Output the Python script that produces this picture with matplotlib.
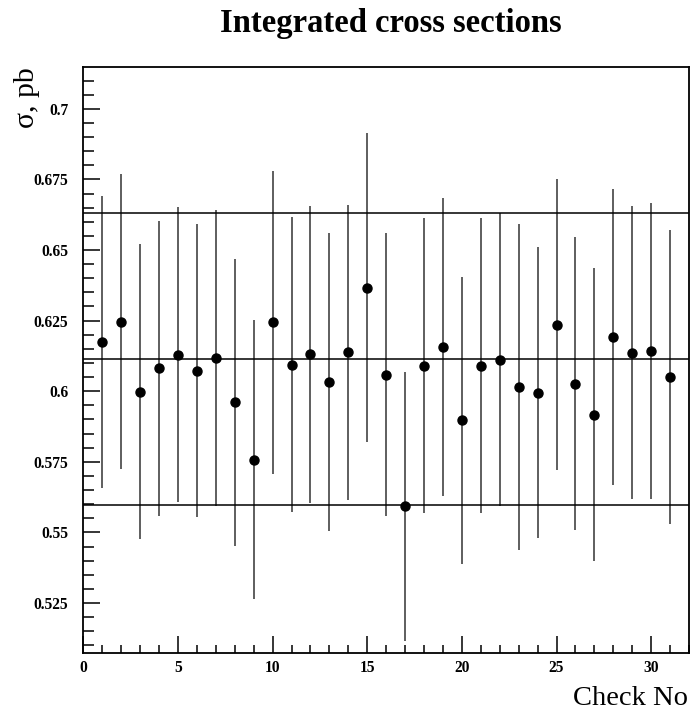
import matplotlib
matplotlib.use("Agg")
import matplotlib.pyplot as plt
from matplotlib.ticker import MultipleLocator, FuncFormatter

# Cross section per check run
check_no = list(range(1, 32))
sigma = [0.6174, 0.6246, 0.5998, 0.6081, 0.6129, 0.6072, 0.6117, 0.5961,
         0.5758, 0.6244, 0.6094, 0.6130, 0.6032, 0.6138, 0.6367, 0.6059,
         0.5593, 0.6090, 0.6156, 0.5897, 0.6090, 0.6111, 0.6014, 0.5995,
         0.6236, 0.6027, 0.5917, 0.6192, 0.6137, 0.6143, 0.6050]
sigma_err = [0.0516, 0.0522, 0.0522, 0.0522, 0.0522, 0.0519, 0.0523, 0.0508,
             0.0493, 0.0537, 0.0522, 0.0525, 0.0528, 0.0522, 0.0547, 0.0500,
             0.0476, 0.0522, 0.0528, 0.0508, 0.0522, 0.0519, 0.0577, 0.0515,
             0.0516, 0.0519, 0.0519, 0.0525, 0.0519, 0.0524, 0.0520]

# average and its band
sigma_mean = 0.6114
sigma_band = 0.0518

serif = "Liberation Serif"

fig = plt.figure(figsize=(6.91, 7.12), dpi=100)
ax = fig.add_axes([0.1206, 0.0833, 0.8765, 0.8230])

ax.errorbar(check_no, sigma, yerr=sigma_err, fmt="o", color="black",
            ecolor="#333333", elinewidth=1.1, markersize=6.5, capsize=0)

for y in (sigma_mean - sigma_band, sigma_mean, sigma_mean + sigma_band):
    ax.axhline(y, color="black", lw=1.1)

ax.set_xlim(0, 32)
ax.set_ylim(0.5074, 0.7149)

ax.xaxis.set_major_locator(MultipleLocator(5))
ax.xaxis.set_minor_locator(MultipleLocator(1))
ax.yaxis.set_major_locator(MultipleLocator(0.025))
ax.yaxis.set_minor_locator(MultipleLocator(0.005))
ax.yaxis.set_major_formatter(FuncFormatter(lambda v, p: ("%.3f" % v).rstrip("0").rstrip(".")))

ax.tick_params(which="both", direction="in", top=False, right=False, width=1.1)
ax.tick_params(which="major", length=12)
ax.tick_params(axis="y", which="minor", length=8)
ax.tick_params(axis="x", which="minor", length=6)
ax.tick_params(axis="y", which="major", pad=10.8)
ax.tick_params(axis="x", which="major", pad=5.5)

for lab in ax.get_xticklabels() + ax.get_yticklabels():
    lab.set_fontfamily(serif)
    lab.set_fontweight("bold")
    lab.set_fontsize(11.2)

for sp in ax.spines.values():
    sp.set_linewidth(1.3)

fig.text(0.566, 0.9555, "Integrated cross sections", ha="center", va="baseline",
         fontsize=23.5, fontweight="bold", family=serif)
fig.text(0.039, 0.906, "σ, pb", rotation=90, ha="center", va="top",
         fontsize=21.5, family=serif)
fig.text(0.996, 0.0105, "Check No", ha="right", va="baseline",
         fontsize=20.5, family=serif)

fig.savefig("out.png", dpi=100)
